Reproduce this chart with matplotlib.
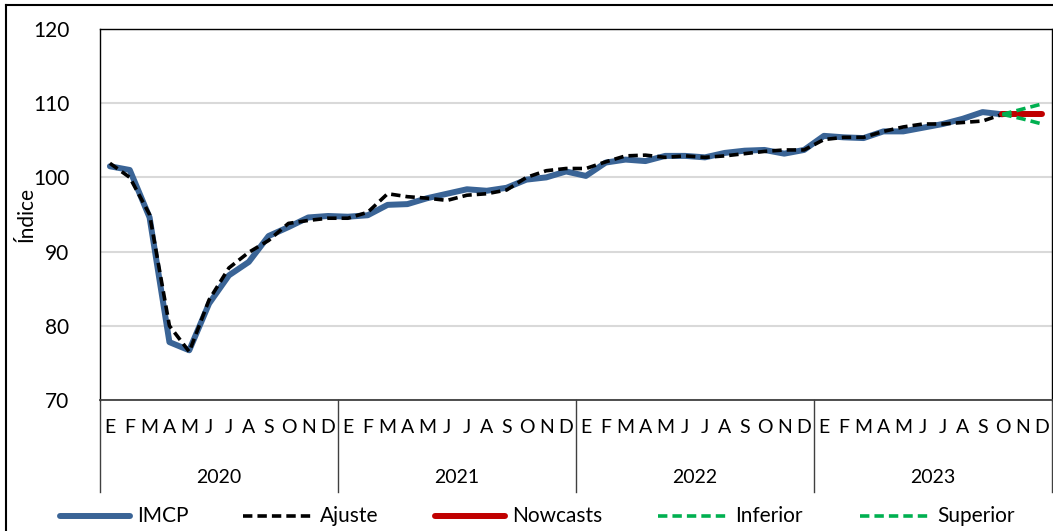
import numpy as np
import matplotlib
matplotlib.use("Agg")
import matplotlib.pyplot as plt
from matplotlib.lines import Line2D

plt.rcParams["font.family"] = ["Lato", "DejaVu Sans"]

# datos
meses = ["E", "F", "M", "A", "M", "J", "J", "A", "S", "O", "N", "D"]
anios = ["2020", "2021", "2022", "2023"]

imcp = [101.5, 101.0, 94.6, 77.8, 76.7, 83.0, 86.8, 88.6, 92.1, 93.3, 94.6, 94.8,
        94.7, 94.9, 96.3, 96.4, 97.2, 97.8, 98.4, 98.2, 98.6, 99.7, 100.0, 100.8,
        100.2, 102.0, 102.4, 102.2, 102.9, 102.9, 102.7, 103.3, 103.6, 103.7, 103.2, 103.7,
        105.6, 105.4, 105.3, 106.2, 106.2, 106.7, 107.2, 107.9, 108.8, 108.5]
ajuste = [101.9, 100.0, 95.0, 80.0, 76.5, 83.5, 87.8, 89.9, 91.5, 93.8, 94.2, 94.5,
          94.5, 95.3, 97.8, 97.4, 97.2, 96.9, 97.6, 97.8, 98.3, 100.0, 100.9, 101.2,
          101.2, 102.1, 102.9, 103.0, 102.7, 102.9, 102.7, 102.9, 103.2, 103.5, 103.7, 103.7,
          105.1, 105.4, 105.4, 106.2, 106.8, 107.2, 107.2, 107.4, 107.6, 108.5]
nowcast = [108.5, 108.5, 108.5]
inferior = [108.5, 107.9, 107.2]
superior = [108.5, 109.2, 109.9]

x_hist = np.arange(len(imcp))
x_now = np.arange(len(imcp) - 1, len(imcp) - 1 + len(nowcast))

W, H = 1053, 531
fig = plt.figure(figsize=(W / 100, H / 100), dpi=100)
ax = fig.add_axes([100 / W, 1 - 400 / H, 952 / W, 371 / H])

estilos = {
    "IMCP": dict(color="#3A6496", lw=4.3, solid_capstyle="round"),
    "Ajuste": dict(color="black", lw=2.6, dashes=(2.6, 1.4)),
    "Nowcasts": dict(color="#C00000", lw=4.3, solid_capstyle="round"),
    "Inferior": dict(color="#00B050", lw=2.6, dashes=(2.6, 1.4)),
    "Superior": dict(color="#00B050", lw=2.6, dashes=(2.6, 1.4)),
}

ax.plot(x_hist, imcp, zorder=3, **estilos["IMCP"])
ax.plot(x_hist, ajuste, zorder=4, **estilos["Ajuste"])
ax.plot(x_now, nowcast, zorder=5, **estilos["Nowcasts"])
ax.plot(x_now, inferior, zorder=6, **estilos["Inferior"])
ax.plot(x_now, superior, zorder=6, **estilos["Superior"])

ax.set_xlim(-0.5, 47.5)
ax.set_ylim(70, 120)
ax.set_yticks(range(70, 121, 10))
ax.tick_params(axis="y", length=0, labelsize=15, pad=22)
ax.set_xticks([])
ax.grid(axis="y", color="#D9D9D9", lw=1.5)
ax.set_axisbelow(True)
for s in ax.spines.values():
    s.set_color("black")
    s.set_linewidth(1.0)
ax.spines["bottom"].set_color("#404040")
ax.spines["bottom"].set_linewidth(1.3)
ax.set_ylabel("Índice", fontsize=15)
ax.yaxis.set_label_coords(-63 / 952, 0.5)

# etiquetas de meses y años
trans = ax.get_xaxis_transform()
for i in range(48):
    ax.text(i, -0.075, meses[i % 12], transform=trans, ha="center", va="center", fontsize=14)
for k, a in enumerate(anios):
    ax.text(12 * k + 5.5, -0.21, a, transform=trans, ha="center", va="center", fontsize=14)
for k in range(5):
    ax.add_line(Line2D([12 * k - 0.5, 12 * k - 0.5], [0, -0.248], transform=trans,
                       color="#404040", lw=1.0, clip_on=False))

# leyenda
ley_x = [60, 243, 435, 658, 860]
ley_y = 1 - 516 / H
for x0, nombre in zip(ley_x, estilos):
    fig.add_artist(Line2D([x0 / W, (x0 + 70) / W], [ley_y, ley_y], transform=fig.transFigure,
                          **estilos[nombre]))
    fig.text((x0 + 77) / W, ley_y, nombre, fontsize=15, ha="left", va="center")

# marco exterior
fig.add_artist(Line2D([6 / W, 6 / W], [0, 1 - 5 / H], transform=fig.transFigure,
                      color="black", lw=1.5))
fig.add_artist(Line2D([6 / W, 1], [1 - 5 / H, 1 - 5 / H], transform=fig.transFigure,
                      color="black", lw=1.5))

fig.savefig("out.png", dpi=100)
